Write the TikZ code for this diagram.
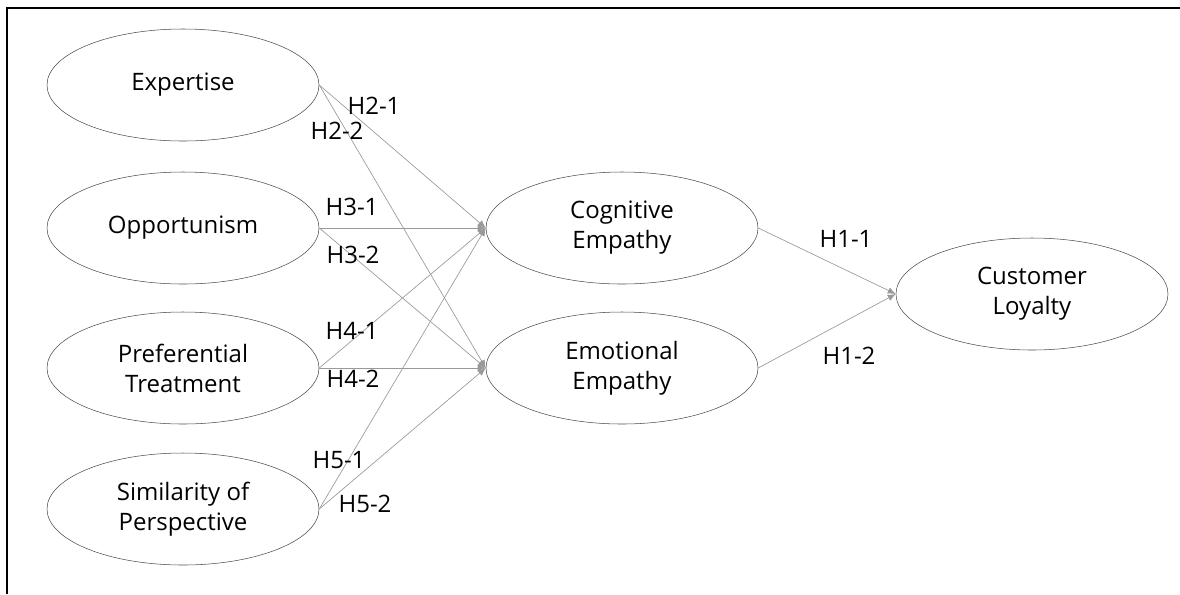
\documentclass[tikz,border=0pt]{standalone}
\usepackage{fontspec}
\setmainfont{Open Sans}
\usetikzlibrary{shapes.geometric,arrows.meta}

\tikzset{
  latent/.style={ellipse, draw=black!70, thin, minimum width=204pt, minimum height=84pt,
    inner sep=0pt, align=center, font=\fontsize{18}{22.5}\selectfont},
  hyp/.style={draw=black!40, line width=0.5pt, -{Latex[length=6pt,width=5pt]}},
  hlabel/.style={inner sep=0pt, font=\fontsize{18}{20}\selectfont}
}

\begin{document}
\begin{tikzpicture}[x=0.75pt,y=-0.75pt]
  \useasboundingbox (0,0) rectangle (1180,594);
  \draw[line width=1.5pt] (7,594) -- (7,8) -- (1180,8);

  % exogenous
  \node[latent] (exp) at (183,85) {Expertise};
  \node[latent] (opp) at (183,228) {Opportunism};
  \node[latent] (pref) at (183,368) {Preferential\\Treatment};
  \node[latent] (sim) at (183,509) {Similarity of\\Perspective};

  % mediators and outcome
  \node[latent] (cog) at (622,228) {Cognitive\\Empathy};
  \node[latent] (emo) at (622,368) {Emotional\\Empathy};
  \node[latent] (loy) at (1032,294) {Customer\\Loyalty};

  \foreach \src in {exp,opp,pref,sim} {
    \draw[hyp] (\src.east) -- (cog.west);
    \draw[hyp] (\src.east) -- (emo.west);
  }
  \draw[hyp] (cog.east) -- (loy.west);
  \draw[hyp] (emo.east) -- (loy.west);

  \node[hlabel] (h21) at (374,106) {H2-1};
  \node[hlabel] (h22) at (337,131) {H2-2};
  \node[hlabel] (h31) at (352,207) {H3-1};
  \node[hlabel] (h32) at (353,255) {H3-2};
  \node[hlabel] (h41) at (352,331) {H4-1};
  \node[hlabel] (h42) at (353,379) {H4-2};
  \node[hlabel] (h51) at (339,460) {H5-1};
  \node[hlabel] (h52) at (365,504) {H5-2};
  \node[hlabel] (h11) at (846,239) {H1-1};
  \node[hlabel] (h12) at (849,356) {H1-2};
\end{tikzpicture}
\end{document}
